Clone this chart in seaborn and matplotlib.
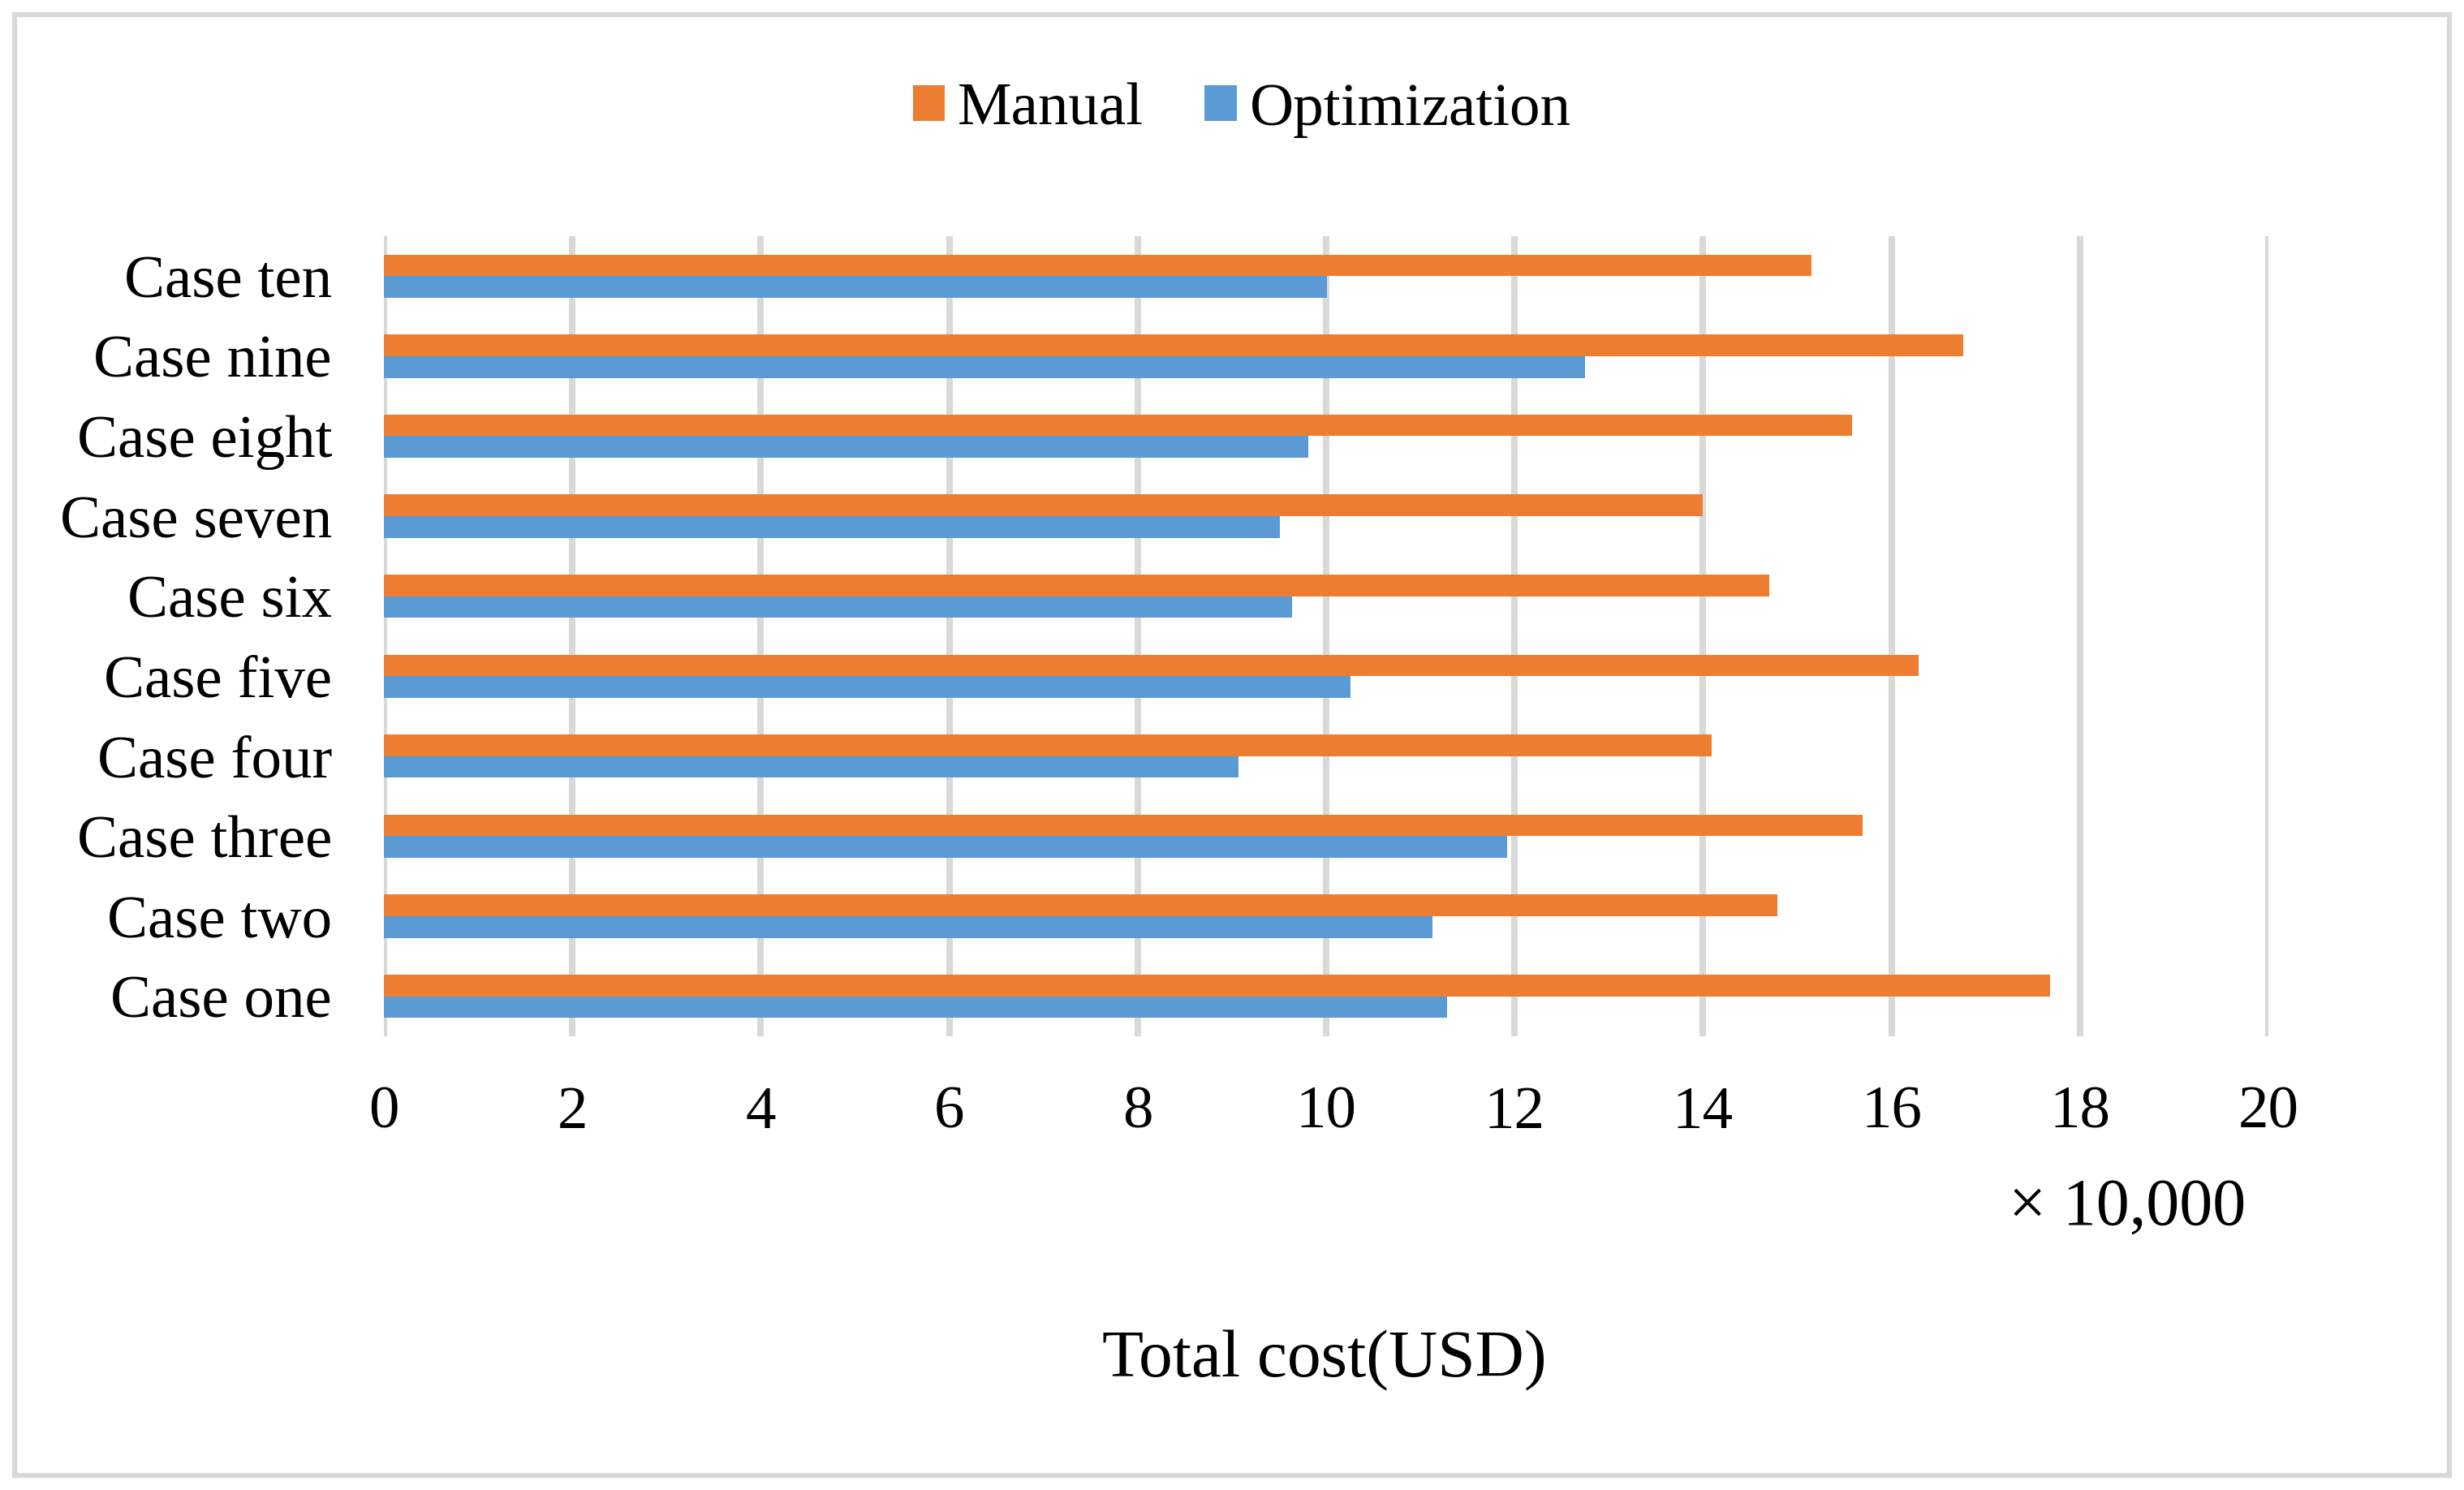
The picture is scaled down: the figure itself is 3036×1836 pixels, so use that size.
import matplotlib
matplotlib.use("Agg")
import matplotlib.pyplot as plt
from matplotlib.patches import Rectangle
import seaborn as sns
import pandas as pd

cases = ["Case one", "Case two", "Case three", "Case four", "Case five",
         "Case six", "Case seven", "Case eight", "Case nine", "Case ten"]
manual = [17.68, 14.79, 15.69, 14.09, 16.29, 14.70, 14.00, 15.58, 16.76, 15.15]
optimization = [11.28, 11.13, 11.92, 9.07, 10.26, 9.64, 9.51, 9.81, 12.75, 10.01]
series = ["Manual", "Optimization"]
colors = ["#ED7D31", "#5B9BD5"]
xticks = [0, 2, 4, 6, 8, 10, 12, 14, 16, 18, 20]

sns.set_style("white")
plt.rcParams["font.family"] = ["Liberation Serif", "DejaVu Serif"]
plt.rcParams["text.color"] = "black"
plt.rcParams["xtick.color"] = "black"
plt.rcParams["ytick.color"] = "black"

df = pd.DataFrame({
    "case": cases * 2,
    "value": manual + optimization,
    "series": [series[0]] * len(cases) + [series[1]] * len(cases),
})

fig = plt.figure(figsize=(30.36, 18.36), dpi=100)
ax = fig.add_axes([0.1558, 0.3045, 0.7648, 0.537])

sns.barplot(data=df, x="value", y="case", hue="series", order=cases[::-1],
            hue_order=series, palette=colors, orient="h", width=0.54,
            saturation=1, linewidth=0, edgecolor="none", ax=ax, legend=True)

ax.set_xlim(0, 20)
ax.set_ylim(9.5, -0.5)
ax.set_xticks(xticks)
ax.set_xticklabels([str(t) for t in xticks])
ax.set_axisbelow(True)
ax.grid(axis="x", color="#d9d9d9", linewidth=5.8)
ax.grid(axis="y", visible=False)
for s in ax.spines.values():
    s.set_visible(False)
ax.tick_params(axis="x", length=0, pad=44, labelsize=54, labelcolor="black")
ax.tick_params(axis="y", length=0, pad=46, labelsize=54, labelcolor="black")
ax.set_xlabel("")
ax.set_ylabel("")

handles, labels = ax.get_legend_handles_labels()
ax.get_legend().remove()
leg = fig.legend(handles, labels, loc="center", bbox_to_anchor=(0.504, 0.926),
                 ncol=2, frameon=False, fontsize=54, handlelength=0.53,
                 handleheight=0.53, handletextpad=0.21, columnspacing=1.0)
for t in leg.get_texts():
    t.set_color("black")

fig.text(0.9114, 0.1781, "\u00d7 10,000", ha="right", va="baseline",
         fontsize=59, color="black")
fig.text(0.5376, 0.0763, "Total cost(USD)", ha="center", va="baseline",
         fontsize=60, color="black")

fig.patches.append(Rectangle((18 / 3036, 18 / 1836), 1 - 36 / 3036, 1 - 36 / 1836,
                             transform=fig.transFigure, fill=False,
                             edgecolor="#d9d9d9", linewidth=4.5))

fig.savefig("out.png", dpi=100, facecolor="white")
